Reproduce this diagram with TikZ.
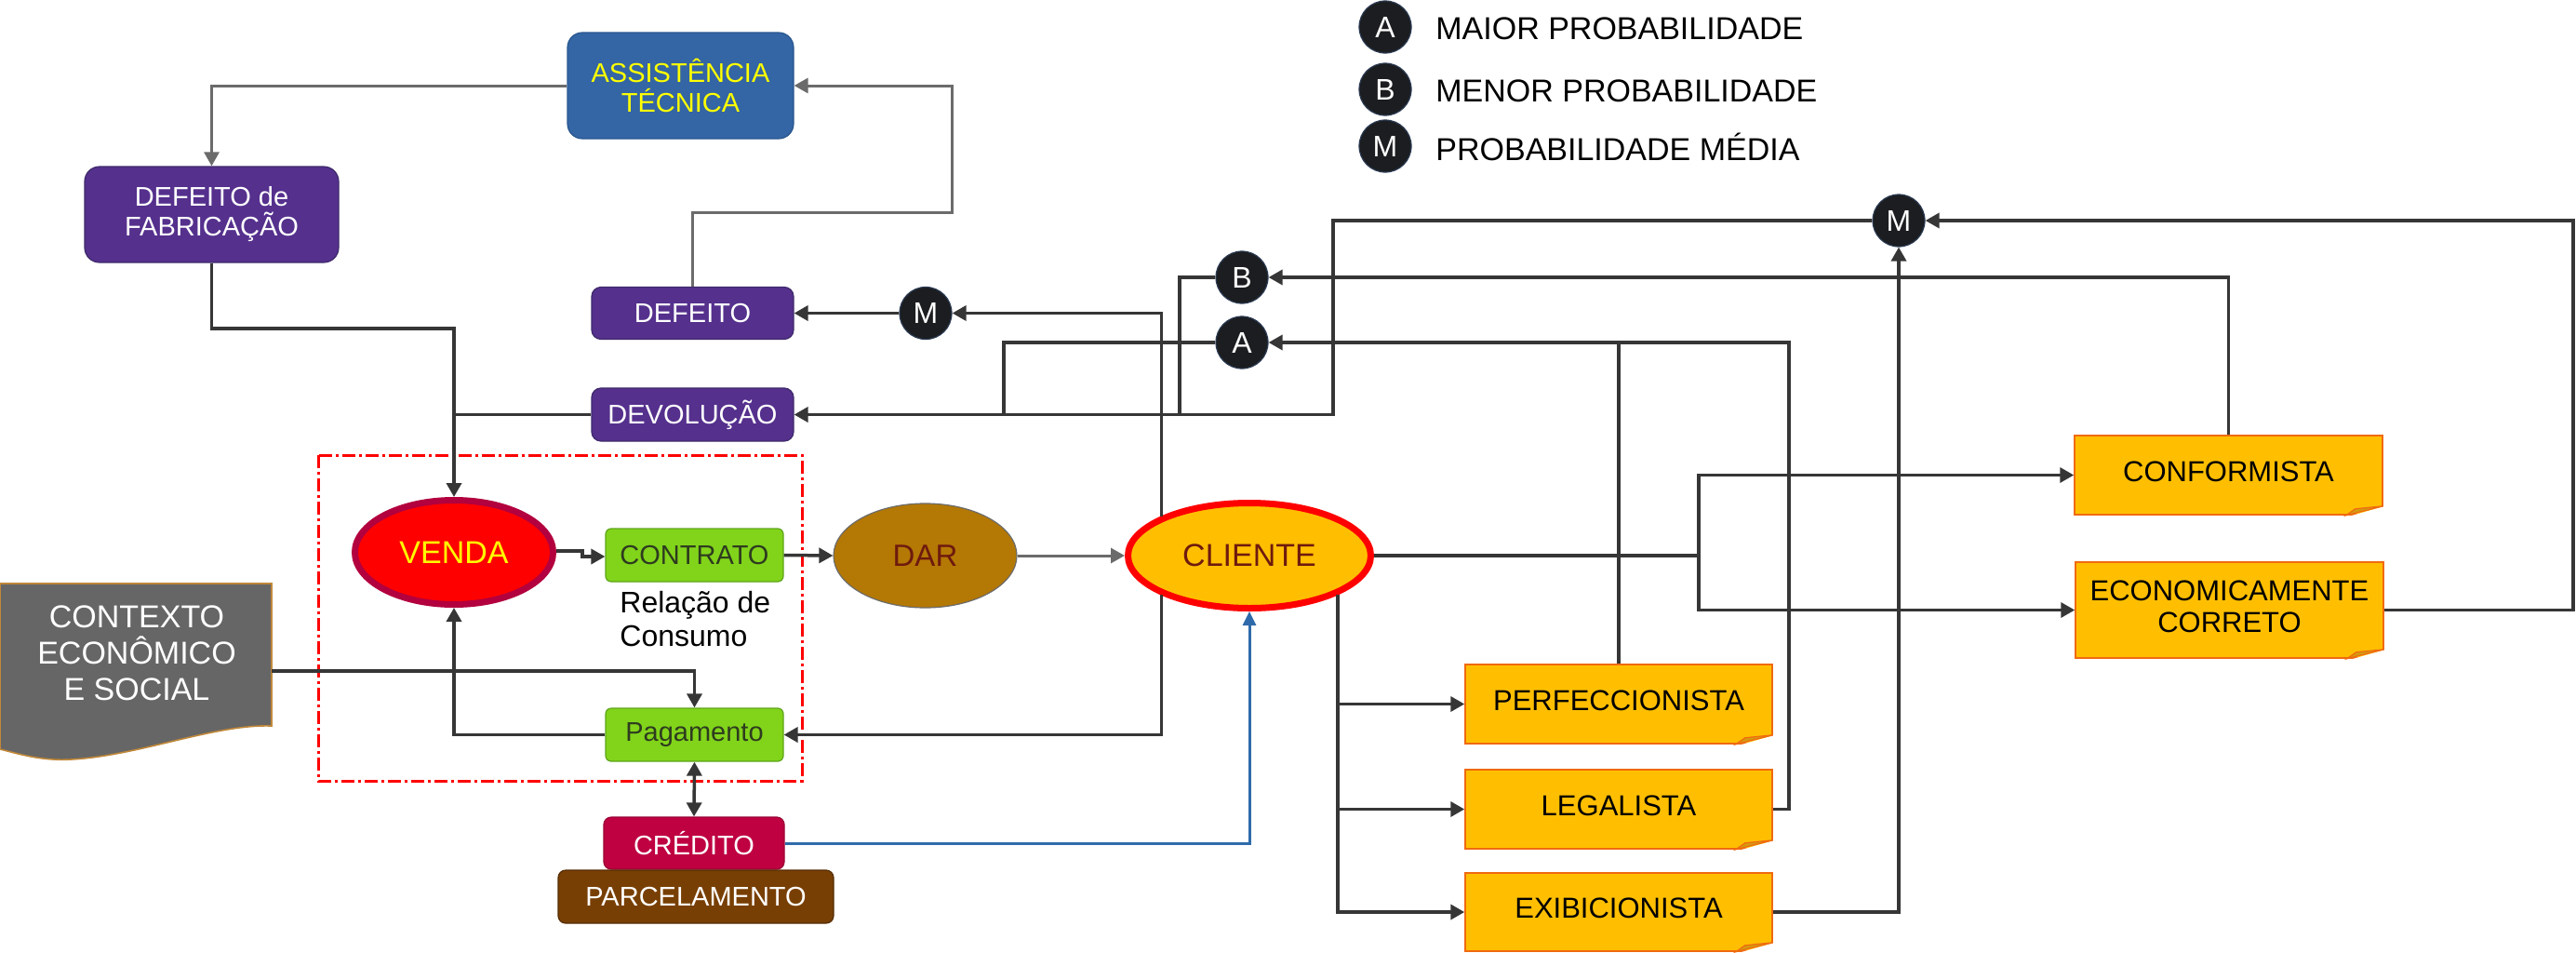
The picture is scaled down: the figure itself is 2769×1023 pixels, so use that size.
\documentclass[tikz,border=0pt]{standalone}
\usepackage{fontspec}
\setmainfont{Liberation Sans}
\usetikzlibrary{arrows.meta,shapes.geometric,calc}
\definecolor{assistblue}{HTML}{3465A4}
\definecolor{assistborder}{HTML}{2A578F}
\definecolor{purp}{HTML}{55308D}
\definecolor{purpborder}{HTML}{3E2A6B}
\definecolor{vendaborder}{HTML}{B3003E}
\definecolor{lgreen}{HTML}{81D41A}
\definecolor{lgreenborder}{HTML}{5EA51A}
\definecolor{dargold}{HTML}{B47804}
\definecolor{maroontext}{HTML}{6E1A0E}
\definecolor{amber}{HTML}{FFBF00}
\definecolor{noteborder}{HTML}{F06A10}
\definecolor{folddark}{HTML}{D49A10}
\definecolor{credred}{HTML}{BF0041}
\definecolor{parcbrown}{HTML}{783F04}
\definecolor{ctxgrey}{HTML}{666666}
\definecolor{ctxborder}{HTML}{C0883A}
\definecolor{lineDark}{HTML}{363636}
\definecolor{lineGrey}{HTML}{6B6B6B}
\definecolor{lineBlue}{HTML}{2F6BAA}
\definecolor{dotfill}{HTML}{1B1D20}
\definecolor{dotborder}{HTML}{2B3A52}
\definecolor{contrtext}{HTML}{2E3B1F}
\definecolor{textyellow}{HTML}{FFFF00}
\tikzset{
  base/.style={inner sep=0pt, align=center},
  bluebox/.style={base, rectangle, rounded corners=8pt, fill=assistblue, draw=assistborder, line width=0.6pt, text=textyellow, font=\fontsize{14.5}{16}\selectfont},
  purplebox/.style={base, rectangle, rounded corners=5pt, fill=purp, draw=purpborder, line width=0.6pt, text=white, font=\fontsize{14.5}{16}\selectfont},
  greenbox/.style={base, rectangle, rounded corners=3pt, fill=lgreen, draw=lgreenborder, line width=0.6pt, text=contrtext, font=\fontsize{14.5}{16}\selectfont, minimum width=95.5pt, minimum height=28.5pt},
  credbox/.style={base, rectangle, rounded corners=4pt, fill=credred, draw=credred!80!black, line width=0.6pt, text=white, font=\fontsize{14.5}{16}\selectfont},
  parcbox/.style={base, rectangle, rounded corners=4pt, fill=parcbrown, draw=parcbrown!70!black, line width=0.6pt, text=white, font=\fontsize{14.5}{16}\selectfont},
  notebox/.style={base, rectangle, fill=amber, draw=noteborder, line width=0.75pt, text=black, font=\fontsize{15.5}{17}\selectfont},
  dot/.style={circle, fill=dotfill, draw=dotborder, line width=0.6pt, minimum size=28pt, inner sep=0pt, text=white, font=\fontsize{16}{16}\selectfont},
  legtext/.style={inner sep=0pt, anchor=west, text=black, font=\fontsize{17}{17}\selectfont},
  arr/.style={draw=lineDark, line width=1.75pt, -{Triangle[length=7.5pt,width=8pt]}},
  arrboth/.style={draw=lineDark, line width=1.75pt, {Triangle[length=7.5pt,width=8pt]}-{Triangle[length=7.5pt,width=8pt]}},
  garr/.style={draw=lineGrey, line width=1.5pt, -{Triangle[length=7.5pt,width=8pt]}},
  barr/.style={draw=lineBlue, line width=1.5pt, -{Triangle[length=7.5pt,width=7pt]}},
  ln/.style={draw=lineDark, line width=1.75pt},
  groupbox/.style={draw=red, line width=1.5pt, dash pattern=on 7pt off 2pt on 1.5pt off 2pt},
}
\newcommand\notefold[1]{%
  \fill[white] ([xshift=1pt,yshift=5pt]#1.south east) -- ([xshift=1pt,yshift=-1pt]#1.south east) -- ([xshift=-20pt,yshift=-1pt]#1.south east) -- cycle;
  \filldraw[fill=folddark, draw=noteborder, line width=0.6pt] ([yshift=5pt]#1.south east) -- ([xshift=-20pt]#1.south east) -- ([xshift=-15pt,yshift=3.5pt]#1.south east) -- cycle;
}
\newcommand\notetext[1]{\raisebox{2pt}{\begin{tabular}{@{}c@{}}#1\end{tabular}}}
\begin{document}
\begin{tikzpicture}[x=0.5pt,y=-0.5pt]
\useasboundingbox (0,0) rectangle (2769,1023);

% legend
\node[dot] (la) at (1489,29) {A};
\node[dot] (lb) at (1489,96) {B};
\node[dot] (lm) at (1489,157) {M};
\node[legtext] (lta) at (1543,31) {MAIOR PROBABILIDADE};
\node[legtext] (ltb) at (1543,98) {MENOR PROBABILIDADE};
\node[legtext] (ltm) at (1543,158) {PROBABILIDADE MÉDIA};

% group frame
\draw[groupbox] (342,489) rectangle (862,839);

% context shape
\filldraw[fill=ctxgrey, draw=ctxborder, line width=0.8pt] (0,627) -- (292,627) -- (292,780)
  .. controls (230,778) and (150,812) .. (77,816)
  .. controls (45,818) and (20,810) .. (0,805) -- cycle;
\node[base, text=white, font=\fontsize{17}{19.5}\selectfont] (ctx) at (147,702) {CONTEXTO\\ECONÔMICO\\E SOCIAL};
\coordinate (ctxout) at (292,721);

% main nodes
\node[bluebox, minimum width=121.5pt, minimum height=57pt] (assist) at (731.5,92) {ASSISTÊNCIA\\TÉCNICA};
\node[purplebox, rounded corners=8pt, minimum width=136.5pt, minimum height=51.5pt] (deffab) at (227.5,230.5) {DEFEITO de\\FABRICAÇÃO};
\node[purplebox, minimum width=108.5pt, minimum height=28pt] (defeito) at (744.5,336.5) {DEFEITO};
\node[purplebox, minimum width=108.5pt, minimum height=28.5pt] (devol) at (744.5,445.5) {DEVOLUÇÃO};

\node[base, ellipse, fill=red, draw=vendaborder, line width=3.5pt, minimum width=106.5pt, minimum height=56pt, text=textyellow, font=\fontsize{17}{17}\selectfont] (venda) at (488,593.5) {VENDA};
\node[greenbox] (contrato) at (746.5,596.5) {CONTRATO};
\node[inner sep=0pt, anchor=west, align=left, font=\fontsize{16}{18}\selectfont] (rel) at (666,665) {Relação de\\Consumo};
\node[greenbox] (pag) at (746.5,789.5) {Pagamento};
\node[credbox, minimum width=97pt, minimum height=28pt] (credito) at (746,906) {CRÉDITO};
\node[parcbox, minimum width=148pt, minimum height=28.5pt] (parc) at (748,963.5) {PARCELAMENTO};

\node[base, ellipse, fill=dargold, draw=lineGrey, line width=0.6pt, minimum width=98.5pt, minimum height=56pt, text=maroontext, font=\fontsize{16.5}{16.5}\selectfont] (dar) at (994.5,597) {DAR};
\node[base, ellipse, fill=amber, draw=red, line width=3.5pt, minimum width=130.5pt, minimum height=56.5pt, text=maroontext, font=\fontsize{17}{17}\selectfont] (cliente) at (1343,597) {CLIENTE};

% probability markers
\node[dot] (m1) at (995,336.5) {M};
\node[dot] (b) at (1335,298) {B};
\node[dot] (a) at (1335,368) {A};
\node[dot] (m2) at (2041,237) {M};

% notes
\node[notebox, minimum width=165pt, minimum height=42.5pt] (perf) at (1740,756.5) {\notetext{PERFECCIONISTA}};
\node[notebox, minimum width=165pt, minimum height=42.5pt] (legal) at (1740,869.5) {\notetext{LEGALISTA}};
\node[notebox, minimum width=165pt, minimum height=42pt] (exib) at (1740,980) {\notetext{EXIBICIONISTA}};
\node[notebox, minimum width=165.5pt, minimum height=42.5pt] (conf) at (2395.5,510.5) {\notetext{CONFORMISTA}};
\node[notebox, minimum width=165.5pt, minimum height=51.5pt] (econ) at (2396.5,655.5) {\notetext{ECONOMICAMENTE\\CORRETO}};
\notefold{perf}
\notefold{legal}
\notefold{exib}
\notefold{conf}
\notefold{econ}

% helper coordinates
\coordinate (jdef) at (1023,228);
\coordinate (jdev) at (488,353);
\coordinate (jm) at (1433,237);
\coordinate (jb) at (1268,446);
\coordinate (ja) at (1079,446);
\coordinate (jc) at (1826,597);
\coordinate (jl) at (1923,368);
\coordinate (je) at (2766,237);

% grey connectors
\draw[garr] (assist.west) -| (deffab.north);
\draw[garr] (defeito.north) |- (jdef) |- (assist.east);
\draw[garr] (dar.east) -- (cliente.west);

% dark connectors
\draw[arr] (deffab.south) |- (jdev) -- (venda.north);
\draw[ln] (devol.west) -- (devol.west -| jdev);
\draw[arr] (m2.west) -- (jm) |- (devol.east);
\draw[ln] (b.west) -| (jb);
\draw[ln] (a.west) -| (ja);
\draw[arr] (m1.west) -- (defeito.east);
\draw[arr] (cliente.north west) |- (m1.east);
\draw[arr] (cliente.south west) |- (pag.east);
\draw[arrboth] (pag.south) -- (credito.north);
\draw[arr] (ctxout) -| (pag.north);
\draw[arr] (pag.west) -| (venda.south);
\draw[arr] ($(venda.east)+(0,-1.5)$) -- ++(28,0) |- ($(contrato.west)+(0,1.5)$);
\draw[arr] (contrato.east) -- (dar.west);
\draw[arr] (cliente.east) -- (jc) |- (conf.west);
\draw[arr] (jc) |- (econ.west);
\draw[arr] (cliente.south east) |- (perf.west);
\draw[arr] (cliente.south east) |- (legal.west);
\draw[arr] (cliente.south east) |- (exib.west);
\draw[arr] (perf.north) |- (a.east);
\draw[ln] (legal.east) -| (jl) -- (perf.north |- jl);
\draw[arr] (conf.north) |- (b.east);
\draw[arr] (econ.east) -| (je) -- (m2.east);
\draw[arr] (exib.east) -| (m2.south);

% blue connector
\draw[barr] (credito.east) -| (cliente.south);
\end{tikzpicture}
\end{document}
